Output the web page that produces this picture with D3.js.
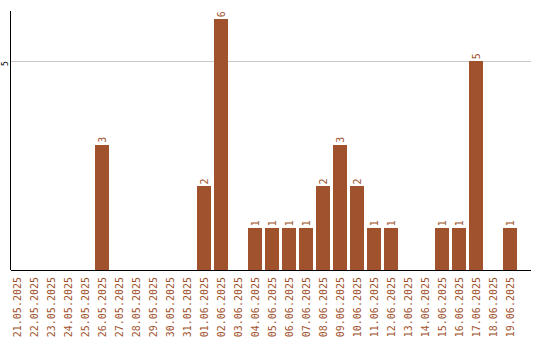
<!DOCTYPE html>
<html>
<head>
<meta charset="utf-8">
<script src="https://cdn.jsdelivr.net/npm/d3@7"></script>
<style>
  body { margin: 0; background: #fff; }
  text { font-family: 'DejaVu Sans Mono', monospace; }
</style>
</head>
<body>
<script>
const dates = [
  '21.05.2025', '22.05.2025', '23.05.2025', '24.05.2025', '25.05.2025', '26.05.2025',
  '27.05.2025', '28.05.2025', '29.05.2025', '30.05.2025', '31.05.2025', '01.06.2025',
  '02.06.2025', '03.06.2025', '04.06.2025', '05.06.2025', '06.06.2025', '07.06.2025',
  '08.06.2025', '09.06.2025', '10.06.2025', '11.06.2025', '12.06.2025', '13.06.2025',
  '14.06.2025', '15.06.2025', '16.06.2025', '17.06.2025', '18.06.2025', '19.06.2025'
]
const counts = [0, 0, 0, 0, 0, 3, 0, 0, 0, 0, 0, 2, 6, 0, 1, 1, 1, 1, 2, 3, 2, 1, 1, 0, 0, 1, 1, 5, 0, 1]
const yTicks = [5]

const width = 540
const height = 340
const plotLeft = 10.5
const plotRight = 531
const plotTop = 11
const plotBottom = 270
const color = '#a0522d'

const data = dates.map((d, i) => ({ date: d, value: counts[i] }))

const x = d3.scaleBand().domain(dates).range([8.5, 518.5]).paddingInner(3 / 17).paddingOuter(3 / 34)
const y = d3.scaleLinear().domain([0, 6.2]).range([plotBottom, plotTop])

const svg = d3
  .select('body')
  .append('svg')
  .attr('width', width)
  .attr('height', height)
  .attr('viewBox', [0, 0, width, height])

// y axis, only the grid line at 5
svg
  .append('g')
  .attr('transform', `translate(${plotLeft}, 0)`)
  .call(d3.axisLeft(y).tickValues(yTicks).tickSizeInner(-(plotRight - plotLeft)).tickSizeOuter(0).tickFormat(d3.format('d')))
  .call(g => g.select('.domain').remove())
  .call(g => g.selectAll('.tick line').attr('stroke', '#c8c8c8').attr('shape-rendering', 'crispEdges'))
  .call(g =>
    g
      .selectAll('.tick text')
      .attr('x', null)
      .attr('dy', null)
      .attr('text-anchor', 'middle')
      .attr('font-size', 8)
      .attr('fill', '#000')
      .attr('transform', 'translate(-3, 2) rotate(-90)')
  )

// bars
svg
  .append('g')
  .selectAll('rect')
  .data(data.filter(d => d.value > 0))
  .join('rect')
  .attr('x', d => x(d.date))
  .attr('y', d => y(d.value))
  .attr('width', x.bandwidth())
  .attr('height', d => y(0) - y(d.value))
  .attr('fill', color)
  .attr('shape-rendering', 'crispEdges')

// value labels
svg
  .append('g')
  .selectAll('text')
  .data(data.filter(d => d.value > 0))
  .join('text')
  .attr('transform', d => `translate(${x(d.date) + x.bandwidth() / 2 + 3.5}, ${y(d.value) - 2}) rotate(-90)`)
  .attr('font-size', 10)
  .attr('fill', color)
  .text(d => d.value)

// x axis labels
svg
  .append('g')
  .attr('transform', `translate(0, ${plotBottom})`)
  .call(d3.axisBottom(x).tickSize(0))
  .call(g => g.select('.domain').remove())
  .call(g =>
    g
      .selectAll('.tick text')
      .attr('y', null)
      .attr('dy', null)
      .attr('text-anchor', 'end')
      .attr('font-size', 10)
      .attr('fill', color)
      .attr('transform', 'translate(3.5, 7) rotate(-90)')
  )

// axis lines
svg
  .append('line')
  .attr('x1', plotLeft)
  .attr('x2', plotLeft)
  .attr('y1', plotTop)
  .attr('y2', plotBottom)
  .attr('stroke', '#000')
  .attr('shape-rendering', 'crispEdges')

svg
  .append('line')
  .attr('x1', plotLeft)
  .attr('x2', plotRight)
  .attr('y1', plotBottom + 0.5)
  .attr('y2', plotBottom + 0.5)
  .attr('stroke', '#000')
  .attr('stroke-width', 1.5)
  .attr('shape-rendering', 'crispEdges')
</script>
</body>
</html>
